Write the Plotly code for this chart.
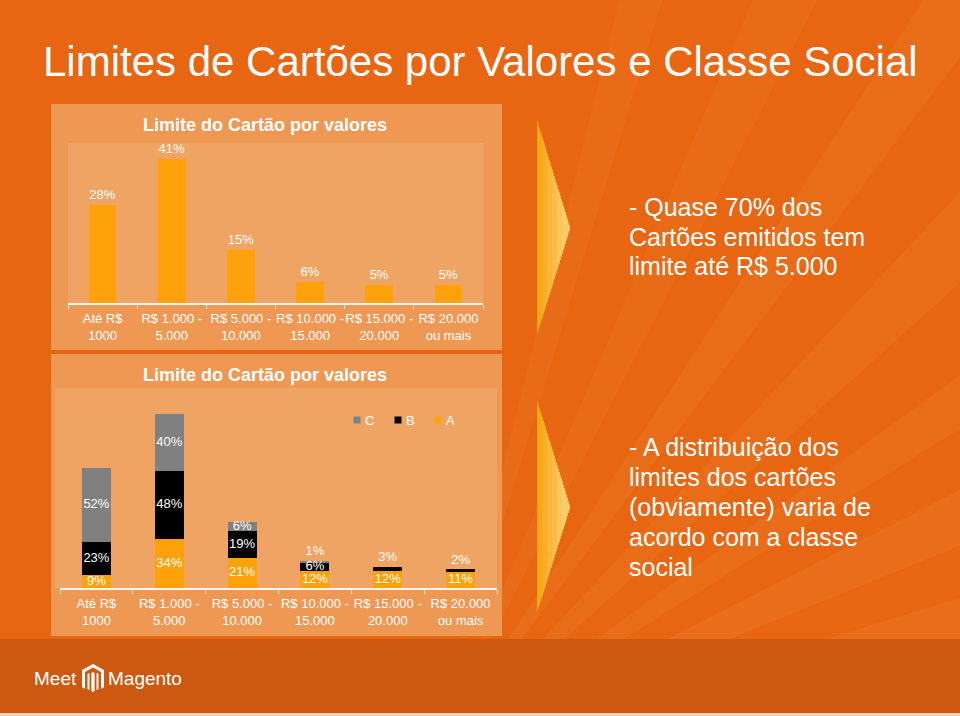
import math
import plotly.graph_objects as go

# ---------------- data ----------------
categories = ["Até R$<br>1000", "R$ 1.000 -<br>5.000", "R$ 5.000 -<br>10.000",
              "R$ 10.000 -<br>15.000", "R$ 15.000 -<br>20.000", "R$ 20.000<br>ou mais"]
total_share = [28, 41, 15, 6, 5, 5]          # chart 1
class_A = [9, 34, 21, 12, 12, 11]            # chart 2 (bottom)
class_B = [23, 48, 19, 6, 3, 2]
class_C = [52, 40, 6, 1, 0, 0]
series_names = ["C", "B", "A"]

title_text = "Limites de Cartões por Valores e Classe Social"
chart_title = "Limite do Cartão por valores"
note1 = ["- Quase 70% dos", "Cartões emitidos tem", "limite até R$ 5.000"]
note2 = ["- A distribuição dos", "limites dos cartões", "(obviamente) varia de",
         "acordo com a classe", "social"]

# ---------------- style ----------------
W, H = 960, 716
BG = "#E86512"
PANEL = "#EE9854"
INNER = "#F0A463"
FOOTER = "#CD5810"
ORANGE = "#FFA10A"
GRAY = "#808080"
BLACK = "#000000"
AXIS = "rgba(255,255,255,0.9)"
FONT = "Liberation Sans, Arial, sans-serif"


def px(x):
    return x / W


def py(y):
    return 1 - y / H


fig = go.Figure()

# chart 1
fig.add_trace(go.Bar(
    x=categories, y=total_share, width=0.4, marker=dict(color=ORANGE, line=dict(width=0)),
    text=[f"{v}%" for v in total_share], textposition="outside",
    textfont=dict(color="white", size=13, family=FONT), cliponaxis=False,
    xaxis="x", yaxis="y", hoverinfo="skip"))

# chart 2 (stacked)
colors = {"A": ORANGE, "B": BLACK, "C": GRAY}
stack = {"A": class_A, "B": class_B, "C": class_C}
base = [0] * len(categories)
for name in ["A", "B", "C"]:
    vals = stack[name]
    fig.add_trace(go.Bar(
        x=categories, y=vals, width=0.4, name=name,
        marker=dict(color=colors[name], line=dict(width=0)),
        xaxis="x2", yaxis="y2", hoverinfo="skip"))
    ys, tx, pos = [], [], []
    for i, v in enumerate(vals):
        if v <= 0:
            ys.append(None); tx.append(""); pos.append("middle center")
            continue
        if v < 4:
            ys.append(base[i] + v + 1.5); pos.append("top center")
        else:
            ys.append(base[i] + v / 2); pos.append("middle center")
        tx.append(f"{v}%")
    fig.add_trace(go.Scatter(
        x=categories, y=ys, mode="text", text=tx, textposition=pos,
        textfont=dict(color="white", size=13, family=FONT), cliponaxis=False,
        xaxis="x2", yaxis="y2", hoverinfo="skip", showlegend=False))
    base = [b + v for b, v in zip(base, vals)]

# ---------------- shapes ----------------
shapes = []
# background rays (subtle, running off the page)
sx, sy = 430, 760
for a0, a1, op in [(12, 17, 0.09), (22, 27, 0.09), (32, 36, 0.08), (42, 47, 0.08),
                   (53, 57, 0.08), (63, 67, 0.07), (73, 76, 0.07)]:
    L = 1500
    p1 = (sx + L * math.cos(math.radians(a0)), sy - L * math.sin(math.radians(a0)))
    p2 = (sx + L * math.cos(math.radians(a1)), sy - L * math.sin(math.radians(a1)))
    path = f"M{px(sx)},{py(sy)} L{px(p1[0])},{py(p1[1])} L{px(p2[0])},{py(p2[1])} Z"
    shapes.append(dict(type="path", xref="paper", yref="paper", path=path,
                       fillcolor=f"rgba(255,200,120,{op})", line=dict(width=0), layer="below"))

# panels
shapes.append(dict(type="rect", xref="paper", yref="paper", x0=px(51), x1=px(502),
                   y0=py(350), y1=py(104), fillcolor=PANEL, line=dict(width=0), layer="below"))
shapes.append(dict(type="rect", xref="paper", yref="paper", x0=px(51), x1=px(502),
                   y0=py(636), y1=py(354), fillcolor=PANEL, line=dict(width=0), layer="below"))
shapes.append(dict(type="rect", xref="x domain", yref="y domain", x0=0, x1=1, y0=0, y1=1,
                   fillcolor=INNER, line=dict(width=0), layer="below"))
shapes.append(dict(type="rect", xref="x2 domain", yref="y2 domain", x0=-0.012, x1=1, y0=0, y1=1,
                   fillcolor=INNER, line=dict(width=0), layer="below"))

# footer
shapes.append(dict(type="rect", xref="paper", yref="paper", x0=0, x1=1, y0=py(713), y1=py(639),
                   fillcolor=FOOTER, line=dict(width=0), layer="below"))
shapes.append(dict(type="rect", xref="paper", yref="paper", x0=0, x1=1, y0=0, y1=py(713),
                   fillcolor="#F2D3BA", line=dict(width=0), layer="below"))

# chevrons (banded gradient from deep yellow at the left edge to pale at the tip)
band_cols = ["#FBA619", "#FBAD28", "#FCB537", "#FCBD48", "#FDC55A", "#FDCC6A"]
for top, tip, bot in [(120, 228, 335), (400, 507, 613)]:
    for k, col in enumerate(band_cols):
        lx = 537 + k * 5
        f = (lx - 537) / (570 - 537)
        t = top + (tip - top) * f
        b = bot - (bot - tip) * f
        path = (f"M{px(lx)},{py(t)} L{px(570)},{py(tip)} L{px(lx)},{py(b)} Z")
        shapes.append(dict(type="path", xref="paper", yref="paper", path=path,
                           fillcolor=col, line=dict(width=0), layer="below"))

# legend squares (chart 2)
for name, cx in zip(series_names, [357, 398, 438]):
    shapes.append(dict(type="rect", xref="paper", yref="paper", x0=px(cx - 3.5), x1=px(cx + 3.5),
                       y0=py(423.5), y1=py(416.5), fillcolor=colors[name], line=dict(width=0)))

# Magento logo icon
def poly(pts):
    return "M" + " L".join(f"{px(x)},{py(y)}" for x, y in pts) + " Z"

lx0 = 93
icon = [
    [(lx0, 664), (lx0 + 11, 670), (lx0 + 11, 687), (lx0 + 8, 689), (lx0 + 8, 672), (lx0, 667.5),
     (lx0 - 8, 672), (lx0 - 8, 689), (lx0 - 11, 687), (lx0 - 11, 670)],
    [(lx0 - 1.6, 673), (lx0, 672), (lx0 + 1.6, 673), (lx0 + 1.6, 691), (lx0, 692), (lx0 - 1.6, 691)],
    [(lx0 - 5.5, 674), (lx0 - 3.5, 673), (lx0 - 3.5, 690), (lx0 - 5.5, 689)],
    [(lx0 + 5.5, 674), (lx0 + 3.5, 673), (lx0 + 3.5, 690), (lx0 + 5.5, 689)],
]
for pts in icon:
    shapes.append(dict(type="path", xref="paper", yref="paper", path=poly(pts),
                       fillcolor="white", line=dict(width=0)))

# ---------------- annotations ----------------
ann = []
ann.append(dict(x=px(41), y=py(62), xref="paper", yref="paper", text=title_text, showarrow=False,
                xanchor="left", yanchor="middle", font=dict(color="white", size=42, family=FONT)))
for yy in [125, 375]:
    ann.append(dict(x=px(265), y=py(yy), xref="paper", yref="paper", text=f"<b>{chart_title}</b>",
                    showarrow=False, xanchor="center", yanchor="middle",
                    font=dict(color="white", size=18, family=FONT)))
for i, line in enumerate(note1):
    ann.append(dict(x=px(627), y=py(207 + 29.5 * i), xref="paper", yref="paper", text=line,
                    showarrow=False, xanchor="left", yanchor="middle",
                    font=dict(color="white", size=25, family=FONT)))
for i, line in enumerate(note2):
    ann.append(dict(x=px(627), y=py(447 + 30 * i), xref="paper", yref="paper", text=line,
                    showarrow=False, xanchor="left", yanchor="middle",
                    font=dict(color="white", size=25, family=FONT)))
for name, tx in zip(series_names, [363, 404, 444]):
    ann.append(dict(x=px(tx), y=py(420), xref="paper", yref="paper", text=name, showarrow=False,
                    xanchor="left", yanchor="middle",
                    font=dict(color="white", size=13, family=FONT)))
ann.append(dict(x=px(32), y=py(678), xref="paper", yref="paper", text="Meet", showarrow=False,
                xanchor="left", yanchor="middle",
                font=dict(color="white", size=19, family=FONT)))
ann.append(dict(x=px(106), y=py(678), xref="paper", yref="paper", text="Magento", showarrow=False,
                xanchor="left", yanchor="middle",
                font=dict(color="white", size=19, family=FONT)))

xaxis_common = dict(type="category", categoryorder="array", categoryarray=categories,
                    tickson="boundaries", ticks="outside", ticklen=4, tickcolor=AXIS, tickwidth=1,
                    showline=True, linecolor=AXIS, linewidth=1.5, showgrid=False, zeroline=False,
                    tickangle=0, ticklabelstandoff=3,
                    tickfont=dict(color="white", size=13, family=FONT), fixedrange=True)

fig.update_layout(
    width=W, height=H, autosize=False, margin=dict(l=0, r=0, t=0, b=0),
    paper_bgcolor=BG, plot_bgcolor="rgba(0,0,0,0)", showlegend=False,
    barmode="stack",
    xaxis=dict(domain=[px(68), px(483)], anchor="y", **xaxis_common),
    yaxis=dict(domain=[py(303), py(143)], range=[0, 45.7], visible=False, fixedrange=True),
    xaxis2=dict(domain=[px(60), px(497)], anchor="y2", **xaxis_common),
    yaxis2=dict(domain=[py(588), py(388)], range=[0, 140], visible=False, fixedrange=True),
    shapes=shapes, annotations=ann,
    font=dict(family=FONT, color="white"),
)

fig.write_html("out.html")
